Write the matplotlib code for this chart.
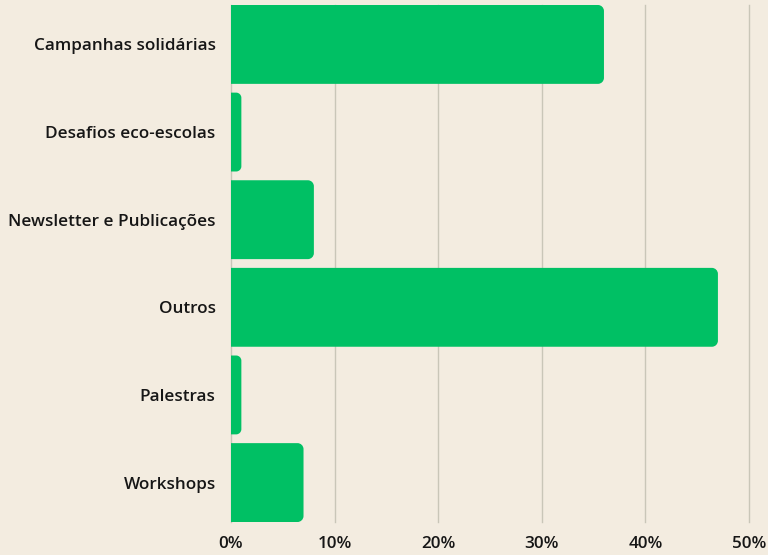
import matplotlib
matplotlib.use("Agg")
import matplotlib.pyplot as plt
from matplotlib.patches import PathPatch
from matplotlib.path import Path

categories = ["Campanhas solidárias", "Desafios eco-escolas", "Newsletter e Publicações",
              "Outros", "Palestras", "Workshops"]
values = [36, 1, 8, 47, 1, 7]
xticks = [0, 10, 20, 30, 40, 50]
xtick_labels = ["0%", "10%", "20%", "30%", "40%", "50%"]

bg = "#f3ece0"
green = "#00c064"

plt.rcParams['font.family'] = ['Open Sans', 'DejaVu Sans']

fig = plt.figure(figsize=(7.68, 5.55), dpi=100, facecolor=bg)
ax = fig.add_axes([231 / 768, 1 - 522 / 555, (749 - 231) / 768, 517 / 555])
ax.set_facecolor(bg)

ypos = list(range(len(categories)))
h = 0.9
bars = ax.barh(ypos, values, height=h, color=green, zorder=2)

ax.set_xlim(0, 50)
ax.set_ylim(len(categories) - 1 + h / 2, -h / 2)

# rounded right corners: replace each bar with one path
px_x = 518 / 50.0
px_y = 517 / (len(categories) - 1 + h)
r = 6.0
k = 0.5523
for b in bars:
    x0, y0 = b.get_x(), b.get_y()
    w, hh = b.get_width(), b.get_height()
    b.set_visible(False)
    rx = min(r / px_x, w / 2)
    ry = rx * px_x / px_y
    x1, y1 = x0 + w, y0 + hh
    verts = [(x0, y0), (x1 - rx, y0),
             (x1 - rx + k * rx, y0), (x1, y0 + ry - k * ry), (x1, y0 + ry),
             (x1, y1 - ry),
             (x1, y1 - ry + k * ry), (x1 - rx + k * rx, y1), (x1 - rx, y1),
             (x0, y1), (x0, y0)]
    codes = [Path.MOVETO, Path.LINETO,
             Path.CURVE4, Path.CURVE4, Path.CURVE4,
             Path.LINETO,
             Path.CURVE4, Path.CURVE4, Path.CURVE4,
             Path.LINETO, Path.CLOSEPOLY]
    ax.add_patch(PathPatch(Path(verts, codes), facecolor=green, edgecolor="none", zorder=2))

ax.set_yticks(ypos)
ax.set_yticklabels(categories, fontsize=12.3, color="#161616", fontweight="semibold")
ax.set_xticks(xticks)
ax.set_xticklabels(xtick_labels, fontsize=12.3, color="#161616", fontweight="semibold")
ax.tick_params(axis="both", length=0)
ax.tick_params(axis="y", pad=11)
ax.tick_params(axis="x", pad=10)
for lab in ax.get_yticklabels():
    lab.set_verticalalignment("center_baseline")

ax.grid(axis="x", color="#c9c6b8", linewidth=1, zorder=1)
for gl in ax.get_xgridlines():
    gl.set_clip_on(False)
for s in ax.spines.values():
    s.set_visible(False)

fig.savefig("out.png", dpi=100, facecolor=bg)
